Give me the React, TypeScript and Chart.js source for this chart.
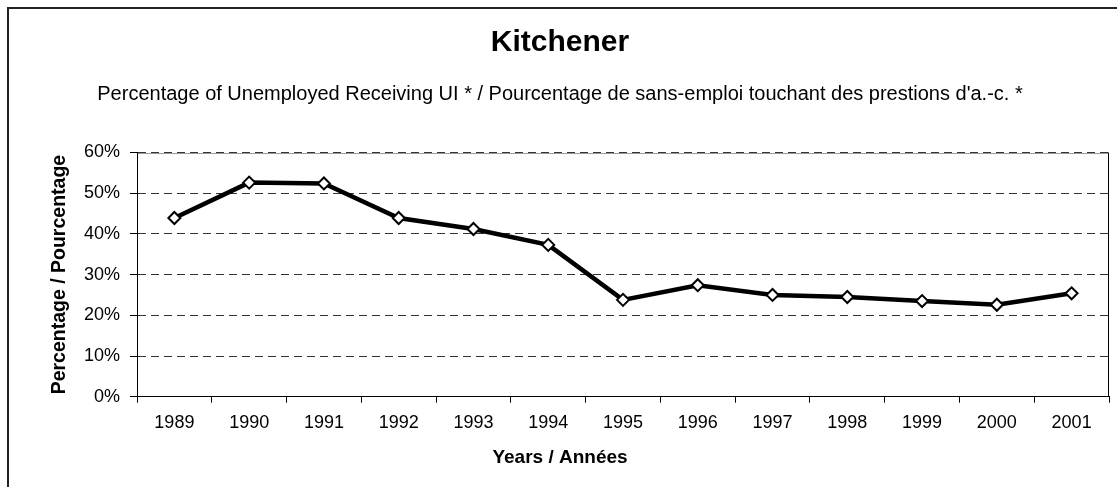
import React, { useEffect, useRef } from 'react';
import { Chart, registerables } from 'chart.js';

Chart.register(...registerables);

// ---- data ----
const years = ['1989', '1990', '1991', '1992', '1993', '1994', '1995', '1996', '1997', '1998', '1999', '2000', '2001'];
const percentReceivingUI = [43.9, 52.6, 52.4, 43.9, 41.2, 37.3, 23.8, 27.4, 25.0, 24.5, 23.5, 22.6, 25.4];
const yMin = 0;
const yMax = 60;
const yStep = 10;

// ---- text ----
const chartTitle = 'Kitchener';
const chartSubtitle =
  "Percentage of Unemployed Receiving UI * / Pourcentage de sans-emploi touchant des prestions d'a.-c. *";
const yAxisTitle = 'Percentage / Pourcentage';
const xAxisTitle = 'Years / Années';

const FONT = "'Liberation Sans', Arial, sans-serif";

const CANVAS_W = 1108;
const CANVAS_H = 478;
const PAD_RIGHT = 6;
const CHART_TOP = 143.5;
const CHART_BOTTOM = 387.7;
const Y_AXIS_WIDTH = 128;

const TITLE_PAD_TOP = 16;
const TITLE_SIZE = 30;
const TITLE_PAD_BOTTOM = 21;
const SUB_SIZE = 20;

export default function App() {
  const canvasRef = useRef<HTMLCanvasElement | null>(null);

  useEffect(() => {
    const canvas = canvasRef.current;
    if (!canvas) return;

    const framePlugin = {
      id: 'frameAndXTitle',
      beforeDraw(chart: any) {
        const { ctx, chartArea } = chart;
        ctx.save();
        ctx.strokeStyle = '#9a9a9a';
        ctx.lineWidth = 1;
        ctx.beginPath();
        const yTop = Math.round(chartArea.top) + 0.5;
        ctx.moveTo(chartArea.left, yTop);
        ctx.lineTo(chartArea.right, yTop);
        ctx.stroke();
        ctx.restore();
      },
      afterDraw(chart: any) {
        const { ctx, chartArea } = chart;
        ctx.save();
        ctx.strokeStyle = '#000';
        ctx.lineWidth = 1;
        ctx.beginPath();
        const xr = Math.round(chartArea.right) - 0.5;
        ctx.moveTo(xr, chartArea.top);
        ctx.lineTo(xr, chartArea.bottom);
        ctx.stroke();
        ctx.fillStyle = '#000';
        ctx.font = `bold 19px ${FONT}`;
        ctx.textAlign = 'center';
        ctx.textBaseline = 'middle';
        ctx.fillText(xAxisTitle, (chart.width - PAD_RIGHT) / 2, chartArea.bottom + 61.3);
        ctx.restore();
      },
    };

    const subBoxBottom = TITLE_PAD_TOP + TITLE_SIZE * 1.2 + TITLE_PAD_BOTTOM + SUB_SIZE * 1.2;

    const chart = new Chart(canvas, {
      type: 'line',
      data: {
        labels: years,
        datasets: [
          {
            label: chartSubtitle,
            data: percentReceivingUI,
            borderColor: '#000',
            borderWidth: 4.5,
            tension: 0,
            fill: false,
            pointStyle: 'rectRot',
            pointRadius: 6,
            pointBorderWidth: 2,
            pointBorderColor: '#000',
            pointBackgroundColor: '#fff',
          },
        ],
      },
      options: {
        responsive: false,
        animation: false,
        devicePixelRatio: 1,
        layout: { padding: { left: 0, right: PAD_RIGHT, top: 0, bottom: 0 } },
        plugins: {
          legend: { display: false },
          tooltip: { enabled: false },
          title: {
            display: true,
            text: chartTitle,
            color: '#000',
            font: { family: FONT, size: TITLE_SIZE, weight: 'bold', lineHeight: 1.2 },
            padding: { top: TITLE_PAD_TOP, bottom: TITLE_PAD_BOTTOM },
          },
          subtitle: {
            display: true,
            text: chartSubtitle,
            color: '#000',
            font: { family: FONT, size: SUB_SIZE, weight: 'normal', lineHeight: 1.2 },
            padding: { top: 0, bottom: CHART_TOP - subBoxBottom },
          },
        },
        scales: {
          x: {
            type: 'category',
            offset: true,
            afterFit: (scale: any) => {
              scale.height = CANVAS_H - CHART_BOTTOM;
            },
            grid: {
              offset: true,
              drawOnChartArea: false,
              drawTicks: true,
              tickLength: 6,
              color: '#000',
              tickColor: '#000',
            },
            border: { display: true, color: '#000', width: 1 },
            ticks: {
              color: '#000',
              padding: 9.5,
              maxRotation: 0,
              autoSkip: false,
              font: { family: FONT, size: 18, lineHeight: 1.2 },
            },
            title: { display: false, text: xAxisTitle },
          },
          y: {
            min: yMin,
            max: yMax,
            afterFit: (scale: any) => {
              scale.width = Y_AXIS_WIDTH;
            },
            grid: {
              drawOnChartArea: true,
              drawTicks: true,
              tickLength: 7,
              color: '#333',
              tickColor: '#000',
              lineWidth: 1,
            },
            border: { display: true, color: '#000', width: 1, dash: [8, 5] },
            ticks: {
              stepSize: yStep,
              color: '#000',
              padding: 10,
              font: { family: FONT, size: 18, lineHeight: 1.2 },
              callback: (v: any) => `${v}%`,
            },
            title: {
              display: true,
              text: yAxisTitle,
              color: '#000',
              font: { family: FONT, size: 19.5, weight: 'bold', lineHeight: 1.2 },
              padding: { top: 39.3, bottom: 0 },
            },
          },
        },
      },
      plugins: [framePlugin],
    });

    return () => {
      chart.destroy();
    };
  }, []);

  return (
    <div
      style={{
        position: 'absolute',
        left: 7,
        top: 7,
        width: 1110,
        height: 480,
        boxSizing: 'border-box',
        borderTop: '2px solid #222',
        borderLeft: '2px solid #222',
        background: '#fff',
        overflow: 'hidden',
      }}
    >
      <canvas ref={canvasRef} width={CANVAS_W} height={CANVAS_H} style={{ display: 'block' }} />
    </div>
  );
}
